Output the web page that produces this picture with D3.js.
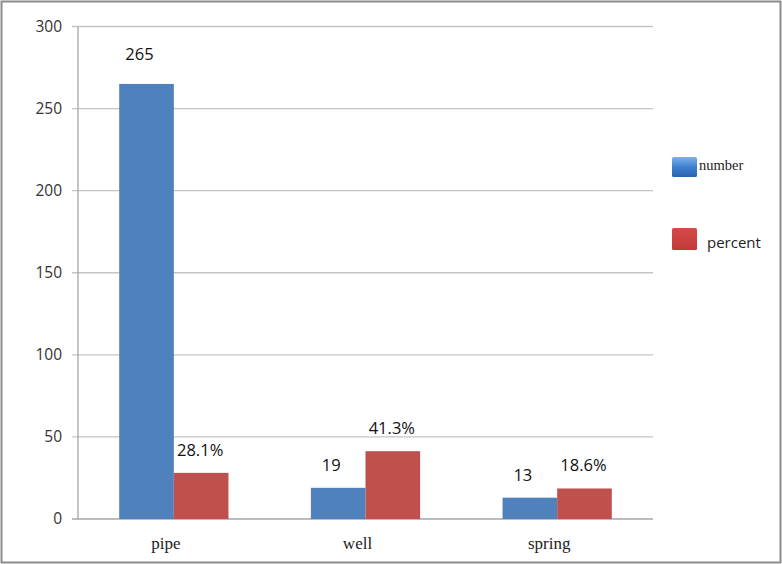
<!DOCTYPE html>
<html>
<head>
<meta charset="utf-8">
<script src="https://cdn.jsdelivr.net/npm/d3@7"></script>
<style>
  body { margin: 0; background: #fff; }
  svg { display: block; }
</style>
</head>
<body>
<svg id="chart"></svg>
<script>
// data
var categories = ["pipe", "well", "spring"];
var numberValues = [265, 19, 13];
var percentValues = [28.1, 41.3, 18.6];
var seriesNames = ["number", "percent"];
var yTicks = [0, 50, 100, 150, 200, 250, 300];

var W = 782, H = 564;
var plotL = 78, plotR = 653, plotT = 26.5, plotB = 519;
var colors = ["#4f81bd", "#c0504d"];

var svg = d3.select("#chart").attr("width", W).attr("height", H);

// 外框
svg.append("rect")
    .attr("x", 1.5).attr("y", 1.5)
    .attr("width", W - 3).attr("height", H - 3)
    .attr("fill", "#fff")
    .attr("stroke", "#8c8c8c")
    .attr("stroke-width", 2);

var x = d3.scaleBand().domain(categories).range([plotL, plotR])
    .paddingInner(0.43).paddingOuter(0.215);
var xs = d3.scaleBand().domain(seriesNames).range([0, x.bandwidth()]);
var y = d3.scaleLinear().domain([0, 300]).range([plotB, plotT]);

// 网格线
svg.append("g").selectAll("line").data(yTicks).enter().append("line")
    .attr("x1", plotL - 6).attr("x2", plotR)
    .attr("y1", function (d) { return y(d); })
    .attr("y2", function (d) { return y(d); })
    .attr("stroke", function (d) { return d === 0 ? "#a6a6a6" : "#c4c4c4"; })
    .attr("stroke-width", 1.3);

// 左轴
svg.append("line")
    .attr("x1", plotL).attr("x2", plotL)
    .attr("y1", plotT).attr("y2", plotB)
    .attr("stroke", "#a6a6a6").attr("stroke-width", 1.3);

svg.append("g").selectAll("text").data(yTicks).enter().append("text")
    .attr("x", plotL - 16)
    .attr("y", function (d) { return y(d); })
    .attr("dy", "0.35em")
    .attr("text-anchor", "end")
    .attr("font-family", "'Open Sans', sans-serif")
    .attr("font-size", 15.5)
    .attr("fill", "#333")
    .text(function (d) { return d; });

// 类别标签
svg.append("g").selectAll("text").data(categories).enter().append("text")
    .attr("x", function (d) { return x(d) + x.bandwidth() / 2 - 8; })
    .attr("y", 549)
    .attr("text-anchor", "middle")
    .attr("font-family", "'Liberation Serif', serif")
    .attr("font-size", 17)
    .attr("fill", "#222")
    .text(function (d) { return d; });

// 柱子
var rows = categories.map(function (c, i) {
    return { cat: c, vals: [
        { s: "number", v: numberValues[i], label: String(numberValues[i]) },
        { s: "percent", v: percentValues[i], label: percentValues[i].toFixed(1) + "%" }
    ] };
});

var groups = svg.append("g").selectAll("g").data(rows).enter().append("g")
    .attr("transform", function (d) { return "translate(" + x(d.cat) + ",0)"; });

groups.selectAll("rect").data(function (d) { return d.vals; }).enter().append("rect")
    .attr("x", function (d) { return xs(d.s); })
    .attr("y", function (d) { return y(d.v); })
    .attr("width", xs.bandwidth())
    .attr("height", function (d) { return plotB - y(d.v); })
    .attr("fill", function (d, i) { return colors[i]; });

groups.selectAll("text").data(function (d) { return d.vals; }).enter().append("text")
    .attr("x", function (d, i) { return xs(d.s) + xs.bandwidth() / 2 + (i === 0 ? -7 : -1); })
    .attr("y", function (d) { return y(d.v) - (d.v > 200 ? 24 : 17); })
    .attr("text-anchor", "middle")
    .attr("font-family", "'Open Sans', sans-serif")
    .attr("font-size", 16.5)
    .attr("fill", "#111")
    .text(function (d) { return d.label; });

// 图例
var defs = svg.append("defs");
var gb = defs.append("linearGradient").attr("id", "gblue").attr("x1", 0).attr("y1", 0).attr("x2", 0).attr("y2", 1);
gb.append("stop").attr("offset", "0").attr("stop-color", "#7fb2ea");
gb.append("stop").attr("offset", "0.5").attr("stop-color", "#3d7fd0");
gb.append("stop").attr("offset", "1").attr("stop-color", "#2a64ad");
var gr = defs.append("linearGradient").attr("id", "gred").attr("x1", 0).attr("y1", 0).attr("x2", 0).attr("y2", 1);
gr.append("stop").attr("offset", "0").attr("stop-color", "#d64a47");
gr.append("stop").attr("offset", "1").attr("stop-color", "#c0393a");

svg.append("rect").attr("x", 672).attr("y", 157).attr("width", 25).attr("height", 20)
    .attr("fill", "url(#gblue)").attr("rx", 1.5);
svg.append("text").attr("x", 699).attr("y", 170)
    .attr("font-family", "'Liberation Serif', serif").attr("font-size", 14.5)
    .attr("fill", "#222").text(seriesNames[0]);

svg.append("rect").attr("x", 672).attr("y", 228).attr("width", 25).attr("height", 22)
    .attr("fill", "url(#gred)").attr("rx", 1.5);
svg.append("text").attr("x", 707).attr("y", 248)
    .attr("font-family", "'Open Sans', sans-serif").attr("font-size", 15)
    .attr("fill", "#222").text(seriesNames[1]);
</script>
</body>
</html>
